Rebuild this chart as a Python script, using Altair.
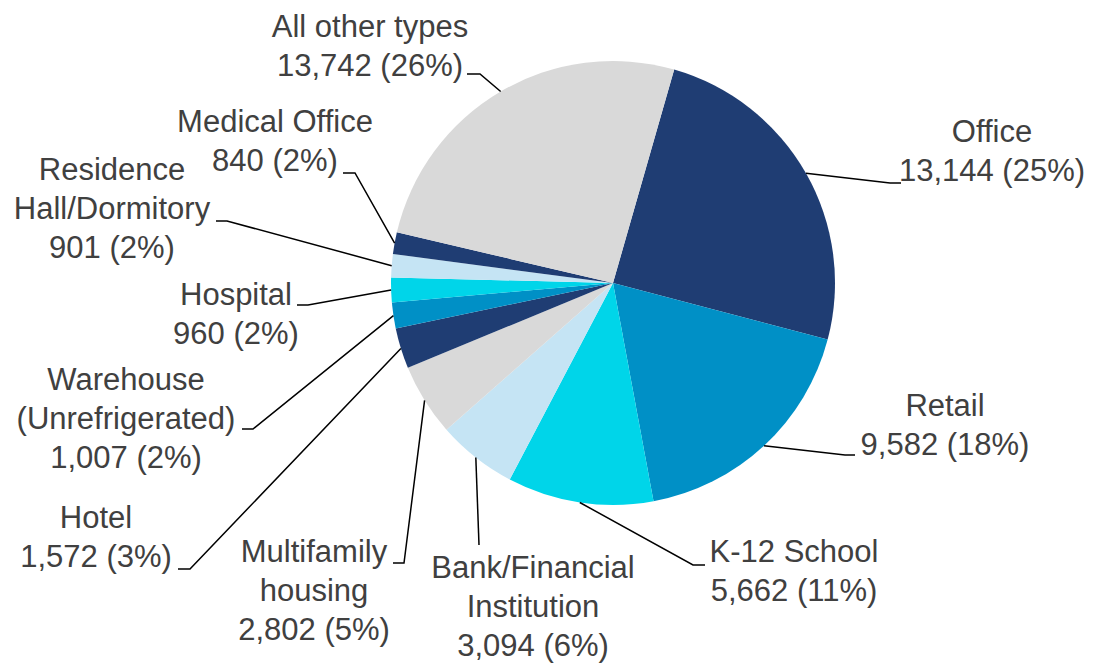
import math
import altair as alt
import pandas as pd

# ---- data ----
categories = ["Office", "Retail", "K-12 School", "Bank/Financial Institution",
              "Multifamily housing", "Hotel", "Warehouse (Unrefrigerated)",
              "Hospital", "Residence Hall/Dormitory", "Medical Office", "All other types"]
label_names = ["Office", "Retail", "K-12 School", "Bank/Financial\nInstitution",
               "Multifamily\nhousing", "Hotel", "Warehouse\n(Unrefrigerated)",
               "Hospital", "Residence\nHall/Dormitory", "Medical Office", "All other types"]
values = [13144, 9582, 5662, 3094, 2802, 1572, 1007, 960, 901, 840, 13742]
colors = ["#1F3D73", "#0090C6", "#00D5E9", "#C5E4F4", "#D9D9D9",
          "#1F3D73", "#0090C6", "#00D5E9", "#C5E4F4", "#1F3D73", "#D9D9D9"]

# ---- layout (chart pixel units) ----
W, H = 1077, 655
CX, CY, R = 605, 275, 222
START = math.radians(16)
label_top_line = [(984, 125), (937, 399), (786, 545), (525, 561), (306, 545),
                  (88, 511), (118, 373), (228, 288), (104, 163), (267, 115), (362, 20)]
elbow = [(882, 175), (837, 447), (685, 557), (471, 537), (396, 555),
         (182, 561), (245, 421), (300, 297), (219, 213), (347, 165), (472, 66)]
stub = [(893, 175), (847, 447), (697, 557), (471, 537), (385, 555),
        (170, 561), (234, 421), (289, 297), (208, 213), (335, 165), (459, 66)]

total = sum(values)
pie = pd.DataFrame({"cat": categories, "value": values, "idx": list(range(len(values))),
                    "color": colors})

labels = []
lines = []
cum = 0
for i, v in enumerate(values):
    mid = START + 2 * math.pi * (cum + v / 2) / total
    cum += v
    pct = round(v / total * 100)
    labels.append({"x": label_top_line[i][0], "y": label_top_line[i][1],
                   "text": f"{label_names[i]}\n{v:,} ({pct}%)"})
    px = CX + R * math.sin(mid)
    py = CY - R * math.cos(mid)
    for k, (x, y) in enumerate([(px, py), elbow[i], stub[i]]):
        lines.append({"cat": categories[i], "k": k, "x": x, "y": y})

lab_df = pd.DataFrame(labels)
line_df = pd.DataFrame(lines)

xs = alt.Scale(domain=[0, W], nice=False, zero=False)
ys = alt.Scale(domain=[0, H], nice=False, zero=False, reverse=True)

arcs = alt.Chart(pie).mark_arc(radius=R, stroke=None).encode(
    theta=alt.Theta("value:Q", stack=True,
                    scale=alt.Scale(range=[START, START + 2 * math.pi])),
    order=alt.Order("idx:Q"),
    color=alt.Color("color:N", scale=None),
    x=alt.value(CX),
    y=alt.value(CY),
)

leaders = alt.Chart(line_df).mark_line(color="black", strokeWidth=1.5).encode(
    x=alt.X("x:Q", scale=xs, axis=None),
    y=alt.Y("y:Q", scale=ys, axis=None),
    detail="cat:N",
    order="k:Q",
)

texts = alt.Chart(lab_df).mark_text(
    font="Liberation Sans", fontSize=31, lineHeight=39, color="#404040",
    align="center", baseline="middle", lineBreak="\n",
).encode(
    x=alt.X("x:Q", scale=xs, axis=None),
    y=alt.Y("y:Q", scale=ys, axis=None),
    text="text:N",
)

chart = alt.layer(arcs, leaders, texts).properties(
    width=W, height=H, padding=0, autosize="none"
).configure_view(stroke=None)

chart.save("out.html", embed_options={"renderer": "svg", "actions": False})
